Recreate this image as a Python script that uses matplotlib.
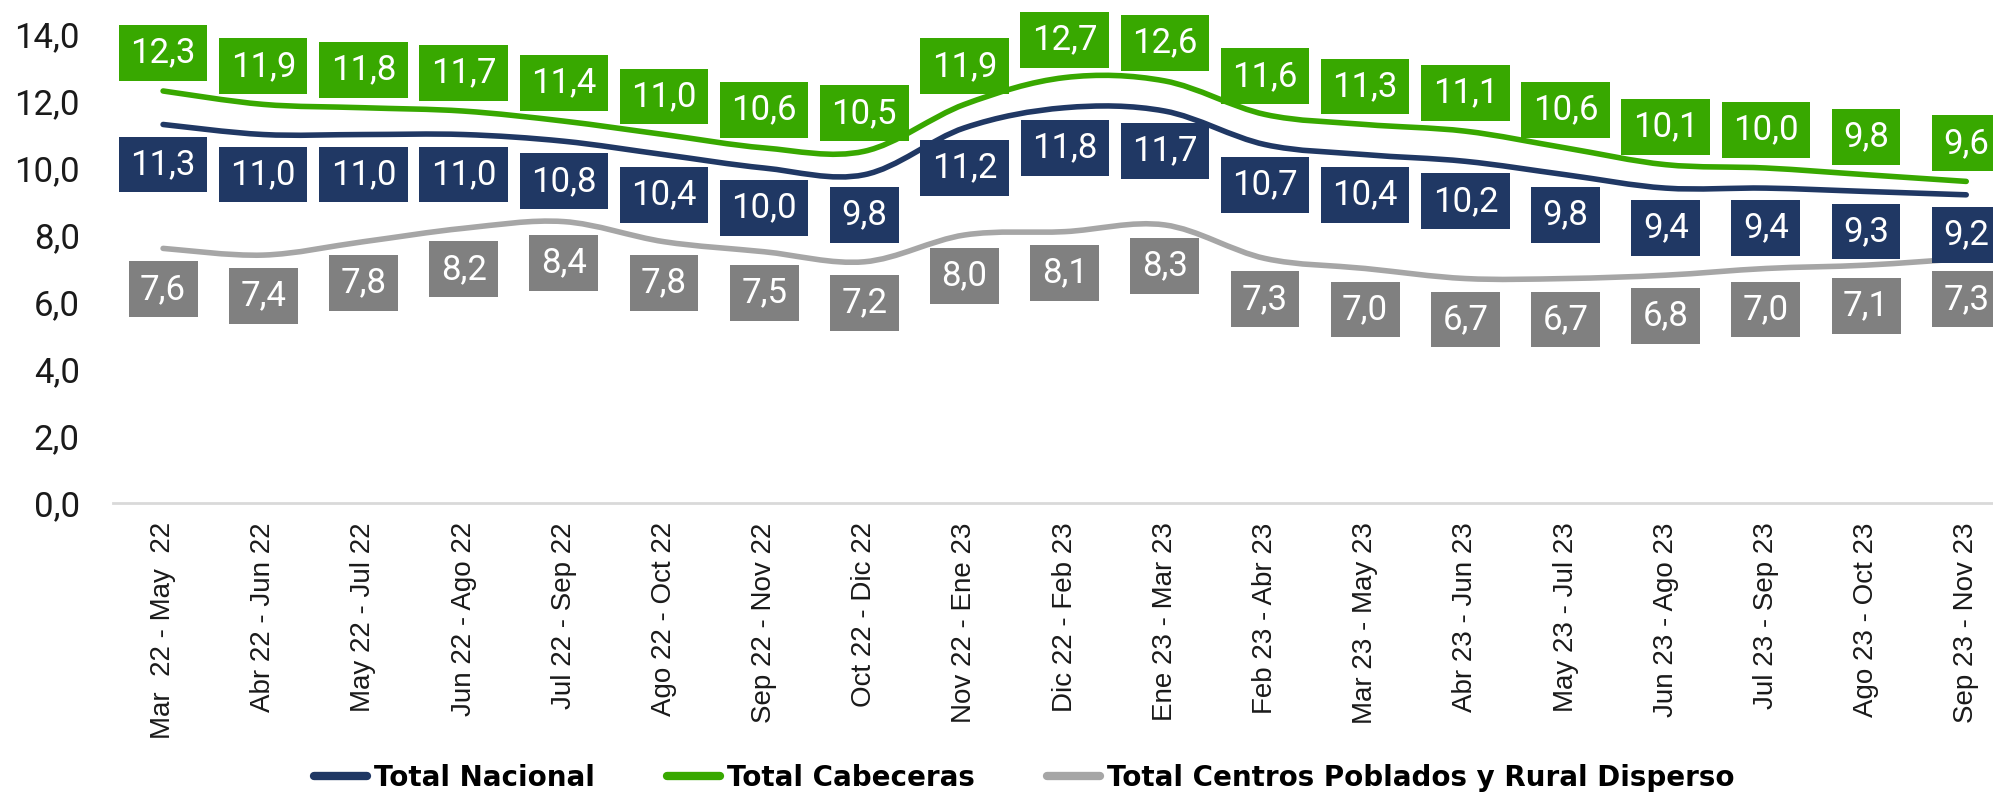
import matplotlib.pyplot as plt
import numpy as np
from matplotlib.path import Path
from matplotlib.patches import PathPatch
from matplotlib.lines import Line2D

periodos = ["Mar  22 - May  22", "Abr 22 - Jun 22", "May 22 - Jul 22", "Jun 22 - Ago 22",
            "Jul 22 - Sep 22", "Ago 22 - Oct 22", "Sep 22 - Nov 22", "Oct 22 - Dic 22",
            "Nov 22 - Ene 23", "Dic 22 - Feb 23", "Ene 23 - Mar 23", "Feb 23 - Abr 23",
            "Mar 23 - May 23", "Abr 23 - Jun 23", "May 23 - Jul 23", "Jun 23 - Ago 23",
            "Jul 23 - Sep 23", "Ago 23 - Oct 23", "Sep 23 - Nov 23"]
nacional = [11.3, 11.0, 11.0, 11.0, 10.8, 10.4, 10.0, 9.8, 11.2, 11.8, 11.7,
            10.7, 10.4, 10.2, 9.8, 9.4, 9.4, 9.3, 9.2]
cabeceras = [12.3, 11.9, 11.8, 11.7, 11.4, 11.0, 10.6, 10.5, 11.9, 12.7, 12.6,
             11.6, 11.3, 11.1, 10.6, 10.1, 10.0, 9.8, 9.6]
rural = [7.6, 7.4, 7.8, 8.2, 8.4, 7.8, 7.5, 7.2, 8.0, 8.1, 8.3,
         7.3, 7.0, 6.7, 6.7, 6.8, 7.0, 7.1, 7.3]
y_ticks = [0, 2, 4, 6, 8, 10, 12, 14]

navy = "#203864"
green = "#38A800"
grey_line = "#A6A6A6"
grey_box = "#808080"

fig = plt.figure(figsize=(19.93, 7.92), dpi=100)
ax = fig.add_axes([0.0567, 0.365, 0.955, 0.592])

x = np.arange(len(periodos))


def smooth_path(xs, ys):
    # excel style smoothed line: catmull-rom as cubic bezier
    pts = np.column_stack([xs, ys]).astype(float)
    n = len(pts)
    verts = [pts[0]]
    codes = [Path.MOVETO]
    for i in range(n - 1):
        p0 = pts[i - 1] if i > 0 else pts[i]
        p1 = pts[i]
        p2 = pts[i + 1]
        p3 = pts[i + 2] if i + 2 < n else pts[i + 1]
        c1 = p1 + (p2 - p0) / 6
        c2 = p2 - (p3 - p1) / 6
        verts += [c1, c2, p2]
        codes += [Path.CURVE4] * 3
    return Path(verts, codes)


series = [(nacional, navy, navy, -40, "Total Nacional"),
          (cabeceras, green, green, 38, "Total Cabeceras"),
          (rural, grey_line, grey_box, -41, "Total Centros Poblados y Rural Disperso")]

handles = []
for vals, lc, bc, off, name in series:
    patch = PathPatch(smooth_path(x, vals), facecolor="none", edgecolor=lc,
                      lw=4, capstyle="round", joinstyle="round", zorder=3)
    ax.add_patch(patch)
    handles.append(Line2D([0], [0], color=lc, lw=6, solid_capstyle="round", label=name))
    for xi, v in zip(x, vals):
        ax.annotate(f"{v:.1f}".replace(".", ","), (xi, v), xytext=(0, off),
                    textcoords="offset pixels", ha="center", va="center",
                    fontsize=25, color="white", family="Roboto",
                    bbox=dict(boxstyle="square,pad=0.33", fc=bc, ec="none"),
                    annotation_clip=False, zorder=4)

ax.set_xlim(-0.5, len(periodos) - 0.5)
ax.set_ylim(0, 14)
ax.set_yticks(y_ticks)
ax.set_yticklabels([f"{t:.1f}".replace(".", ",") for t in y_ticks],
                   fontsize=25, family="Roboto", color="#1a1a1a")
ax.set_xticks(x)
ax.set_xticklabels(periodos, rotation=90, fontsize=20, family="Liberation Sans",
                   color="#1a1a1a")
ax.tick_params(axis="both", length=0)
ax.tick_params(axis="y", pad=24)
ax.tick_params(axis="x", pad=14)
for s in ["top", "right", "left"]:
    ax.spines[s].set_visible(False)
ax.spines["bottom"].set_color("#D9D9D9")
ax.spines["bottom"].set_linewidth(2)

leg = fig.legend(handles=handles, loc="center", bbox_to_anchor=(0.514, 0.018),
                 ncol=3, frameon=False, handlelength=1.9, handletextpad=0.25,
                 columnspacing=2.6, borderpad=0,
                 prop={"family": "DejaVu Sans", "weight": "bold", "size": 20})

fig.savefig("out.png", dpi=100)
